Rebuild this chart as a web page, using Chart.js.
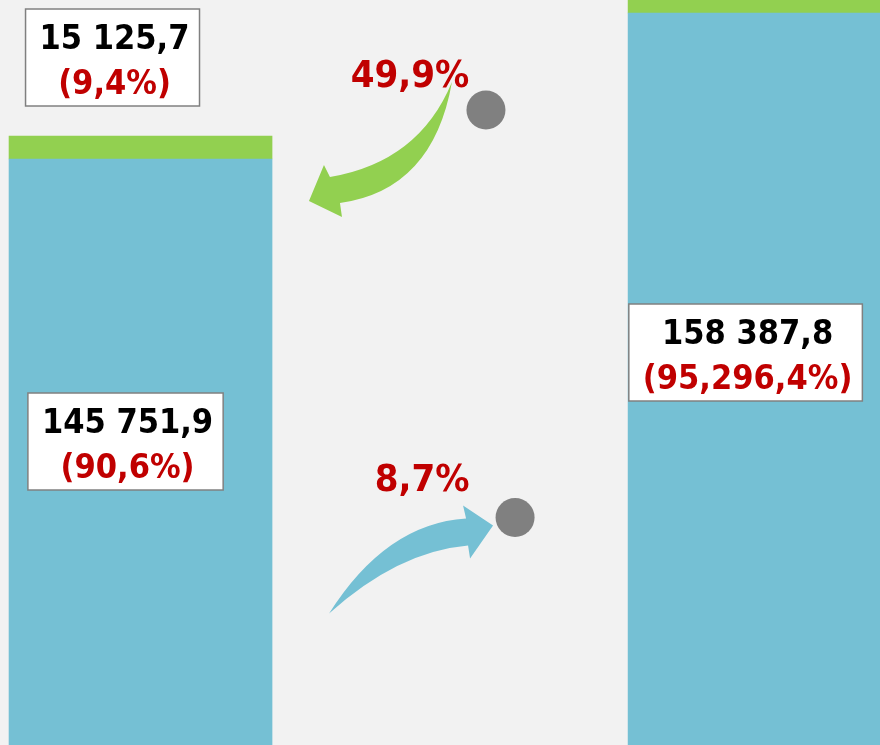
<!DOCTYPE html>
<html>
<head>
<meta charset="utf-8">
<script src="https://cdn.jsdelivr.net/npm/chart.js@4"></script>
<style>
html, body { margin: 0; padding: 0; background: #f2f2f2; }
#wrap { width: 880px; height: 745px; }
</style>
</head>
<body>
<div id="wrap"><canvas id="shareChart"></canvas></div>
<script>
// two periods, bars sit on a linear x axis so the right one can run off the edge
const barPos = [0, 2];
const blueValues = [145751.9, 158387.8];
// green caps as drawn in the picture (the drawing is not to scale with its labels)
const greenValues = [1990, 1200];
const blueLabels = ['145 751,9', '158 387,8'];
const blueShares = ['(90,6%)', '(95,296,4%)'];
const greenLabels = ['15 125,7'];
const greenShares = ['(9,4%)'];
const changeLabels = ['49,9%', '8,7%'];
const markerX = [1.116, 1.21];
const markerY = [149990, 114725];

const BLUE = '#75c0d4';
const GREEN = '#92d050';
const RED = '#c00000';
const LABEL_FONT = 'bold 34px "DejaVu Sans Condensed", "DejaVu Sans", sans-serif';
const PCT_FONT = 'bold 38px "DejaVu Sans Condensed", "DejaVu Sans", sans-serif';

function labelBox(ctx, cx, top, lines) {
    ctx.font = LABEL_FONT;
    let w = 0;
    lines.forEach(l => { w = Math.max(w, ctx.measureText(l.text).width); });
    w += 24;
    ctx.fillStyle = '#ffffff';
    ctx.fillRect(cx - w / 2, top, w, 97);
    ctx.strokeStyle = '#808080';
    ctx.lineWidth = 1.5;
    ctx.strokeRect(cx - w / 2, top, w, 97);
    ctx.textAlign = 'center';
    ctx.textBaseline = 'alphabetic';
    ctx.fillStyle = '#000000';
    ctx.fillText(lines[0].text, cx + 2, top + 40);
    ctx.fillStyle = RED;
    ctx.fillText(lines[1].text, cx + 2, top + 85);
}

// curved arrows + text boxes, anchored on the scales
const overlay = {
    id: 'overlay',
    afterDatasetsDraw(chart) {
        const ctx = chart.ctx;
        const xs = chart.scales.x, ys = chart.scales.y;
        const c1 = { x: xs.getPixelForValue(markerX[0]), y: ys.getPixelForValue(markerY[0]) };
        const c2 = { x: xs.getPixelForValue(markerX[1]), y: ys.getPixelForValue(markerY[1]) };
        ctx.save();

        // green arrow, pointing back at the first bar
        ctx.fillStyle = GREEN;
        ctx.beginPath();
        ctx.moveTo(c1.x - 34, c1.y - 28);
        ctx.quadraticCurveTo(c1.x - 67, c1.y + 52, c1.x - 156, c1.y + 67);
        ctx.lineTo(c1.x - 162, c1.y + 55);
        ctx.lineTo(c1.x - 177, c1.y + 91);
        ctx.lineTo(c1.x - 144, c1.y + 107);
        ctx.lineTo(c1.x - 146, c1.y + 93);
        ctx.quadraticCurveTo(c1.x - 53, c1.y + 80, c1.x - 34, c1.y - 28);
        ctx.fill();

        // blue arrow, pointing to the lower marker
        ctx.fillStyle = BLUE;
        ctx.beginPath();
        ctx.moveTo(c2.x - 186, c2.y + 96);
        ctx.quadraticCurveTo(c2.x - 129, c2.y + 6, c2.x - 49, c2.y + 1);
        ctx.lineTo(c2.x - 52, c2.y - 12);
        ctx.lineTo(c2.x - 22, c2.y + 8);
        ctx.lineTo(c2.x - 45, c2.y + 41);
        ctx.lineTo(c2.x - 47, c2.y + 28);
        ctx.quadraticCurveTo(c2.x - 117, c2.y + 34, c2.x - 186, c2.y + 96);
        ctx.fill();

        // change percentages
        ctx.font = PCT_FONT;
        ctx.fillStyle = RED;
        ctx.textAlign = 'center';
        ctx.textBaseline = 'alphabetic';
        ctx.fillText(changeLabels[0], c1.x - 76, c1.y - 23);
        ctx.fillText(changeLabels[1], c2.x - 93, c2.y - 26);

        // value boxes
        const lx = xs.getPixelForValue(barPos[0]);
        const rx = xs.getPixelForValue(barPos[1]);
        const greenTop = ys.getPixelForValue(blueValues[0] + greenValues[0]);
        const blueTopL = ys.getPixelForValue(blueValues[0]);
        const blueTopR = ys.getPixelForValue(blueValues[1]);
        labelBox(ctx, lx - 28, greenTop - 127, [{ text: greenLabels[0] }, { text: greenShares[0] }]);
        labelBox(ctx, lx - 15, blueTopL + 234, [{ text: blueLabels[0] }, { text: blueShares[0] }]);
        labelBox(ctx, rx - 14, blueTopR + 291, [{ text: blueLabels[1] }, { text: blueShares[1] }]);

        ctx.restore();
    }
};

const ctx = document.getElementById('shareChart').getContext('2d');
const shareChart = new Chart(ctx, {
    type: 'bar',
    data: {
        datasets: [{
            label: 'blue',
            data: barPos.map((x, i) => ({ x: x, y: blueValues[i] })),
            backgroundColor: BLUE,
            barThickness: 263,
            order: 2
        }, {
            label: 'green',
            data: barPos.map((x, i) => ({ x: x, y: greenValues[i] })),
            backgroundColor: GREEN,
            barThickness: 263,
            order: 2
        }, {
            type: 'scatter',
            label: 'markers',
            data: markerX.map((x, i) => ({ x: x, y: markerY[i] })),
            backgroundColor: '#808080',
            borderWidth: 0,
            pointRadius: 19.5,
            order: 1
        }]
    },
    options: {
        responsive: true,
        maintainAspectRatio: false,
        animation: false,
        layout: { padding: 0, autoPadding: false },
        scales: {
            x: {
                type: 'linear',
                min: -0.454,
                max: 2.389,
                offset: false,
                stacked: true,
                display: false
            },
            y: {
                min: 95035,
                max: 159513,
                stacked: true,
                display: false
            }
        },
        plugins: {
            legend: { display: false },
            tooltip: { enabled: false }
        }
    },
    plugins: [overlay]
});
</script>
</body>
</html>
